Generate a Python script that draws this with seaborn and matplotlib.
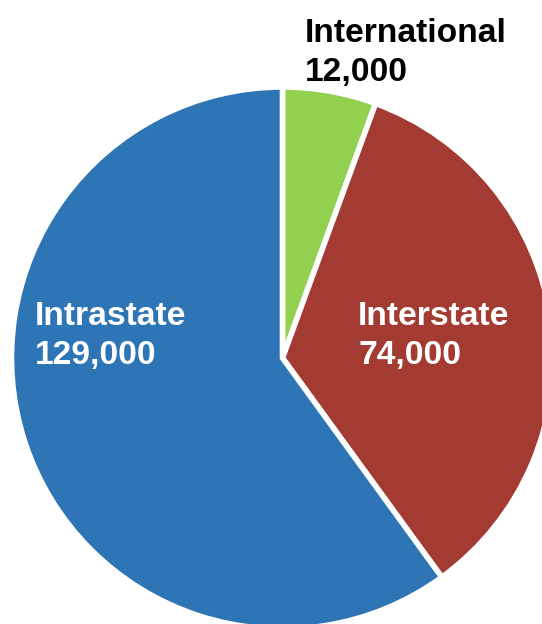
import matplotlib
matplotlib.use("Agg")
import matplotlib.pyplot as plt
import seaborn as sns

# ---------- data ----------
categories = ["International", "Interstate", "Intrastate"]
values = [12000, 74000, 129000]
colors = ["#92D050", "#A33B32", "#2E75B6"]
label_colors = ["black", "white", "white"]

# ---------- style ----------
sns.set_style("white")
plt.rcParams["font.family"] = ["Liberation Sans", "DejaVu Sans"]

W, H = 542, 624
fig = plt.figure(figsize=(W / 100, H / 100), dpi=100)
ax = fig.add_axes([0, 0, 1, 1])

# pie centre and radius in pixels
cx, cy, r = 282.5, 358, 271

ax.pie(
    values,
    colors=colors,
    startangle=90,
    counterclock=False,
    radius=1,
    wedgeprops=dict(edgecolor="white", linewidth=4),
)
ax.set_aspect("equal")
ax.set_xlim(-cx / r, (W - cx) / r)
ax.set_ylim(-(H - cy) / r, cy / r)
ax.axis("off")

# ---------- labels (pixel positions: left, first baseline) ----------
label_pos = [(305, 42), (358, 325), (35, 325)]
line_gap = 39
for name, val, col, (px, py) in zip(categories, values, label_colors, label_pos):
    fig.text(px / W, 1 - py / H, name, color=col, fontsize=24.2,
             fontweight="bold", va="baseline", ha="left")
    fig.text(px / W, 1 - (py + line_gap) / H, f"{val:,}", color=col,
             fontsize=24.2, fontweight="bold", va="baseline", ha="left")

fig.savefig("out.png", dpi=100)
